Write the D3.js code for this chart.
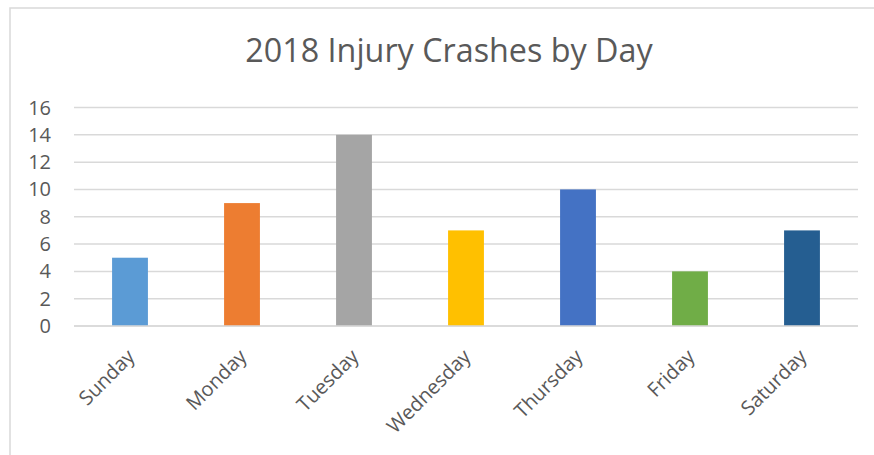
<!DOCTYPE html>
<meta charset="utf-8">
<script src="https://cdn.jsdelivr.net/npm/d3@7"></script>
<style>
body { margin: 0; background: #fff; }
text { font-family: "Open Sans", sans-serif; fill: #595959; }
.grid line { stroke: #d9d9d9; stroke-width: 1.5px; }
</style>
<body>
<script>

var days = ["Sunday", "Monday", "Tuesday", "Wednesday", "Thursday", "Friday", "Saturday"];
var crashes = [5, 9, 14, 7, 10, 4, 7];
var colors = ["#5b9bd5", "#ed7d31", "#a5a5a5", "#ffc000", "#4472c4", "#70ad47", "#255e91"];
var yTicks = [0, 2, 4, 6, 8, 10, 12, 14, 16];

var width = 874,
    height = 455;

var svg = d3.select("body").append("svg")
    .attr("width", width)
    .attr("height", height);

// chart border
svg.append("rect")
    .attr("x", 10)
    .attr("y", 8)
    .attr("width", 900)
    .attr("height", 500)
    .attr("fill", "none")
    .attr("stroke", "#d9d9d9")
    .attr("stroke-width", 1.5);

svg.append("text")
    .attr("x", 449)
    .attr("y", 62)
    .attr("text-anchor", "middle")
    .style("font-size", "32.3px")
    .text("2018 Injury Crashes by Day");

var x = d3.scaleBand()
    .domain(days)
    .range([74, 858])
    .paddingInner(0.68)
    .paddingOuter(0.34);

var y = d3.scaleLinear()
    .domain([0, 16])
    .range([326, 107.5]);

// gridlines
svg.append("g")
    .attr("class", "grid")
    .selectAll("line")
    .data(yTicks)
    .enter().append("line")
    .attr("x1", 74)
    .attr("x2", 858)
    .attr("y1", function(d) { return y(d); })
    .attr("y2", function(d) { return y(d); });

// y labels
svg.append("g")
    .selectAll("text")
    .data(yTicks)
    .enter().append("text")
    .attr("x", 51)
    .attr("y", function(d) { return y(d); })
    .attr("dy", "0.35em")
    .attr("text-anchor", "end")
    .style("font-size", "20px")
    .text(function(d) { return d; });

// bars
svg.append("g")
    .selectAll("rect")
    .data(crashes)
    .enter().append("rect")
    .attr("x", function(d, i) { return x(days[i]); })
    .attr("y", function(d) { return y(d); })
    .attr("width", x.bandwidth())
    .attr("height", function(d) { return y(0) - y(d); })
    .attr("fill", function(d, i) { return colors[i]; });

// axis line on top of bars
svg.append("line")
    .attr("x1", 74)
    .attr("x2", 858)
    .attr("y1", y(0))
    .attr("y2", y(0))
    .attr("stroke", "#d9d9d9")
    .attr("stroke-width", 1.5);

// x labels, rotated
svg.append("g")
    .selectAll("text")
    .data(days)
    .enter().append("text")
    .attr("transform", function(d) {
        return "translate(" + (x(d) + x.bandwidth() / 2 - 4) + ",348) rotate(-45)";
    })
    .attr("text-anchor", "end")
    .attr("dy", "0.7em")
    .style("font-size", "20px")
    .text(function(d) { return d; });

</script>
</body>
</html>
